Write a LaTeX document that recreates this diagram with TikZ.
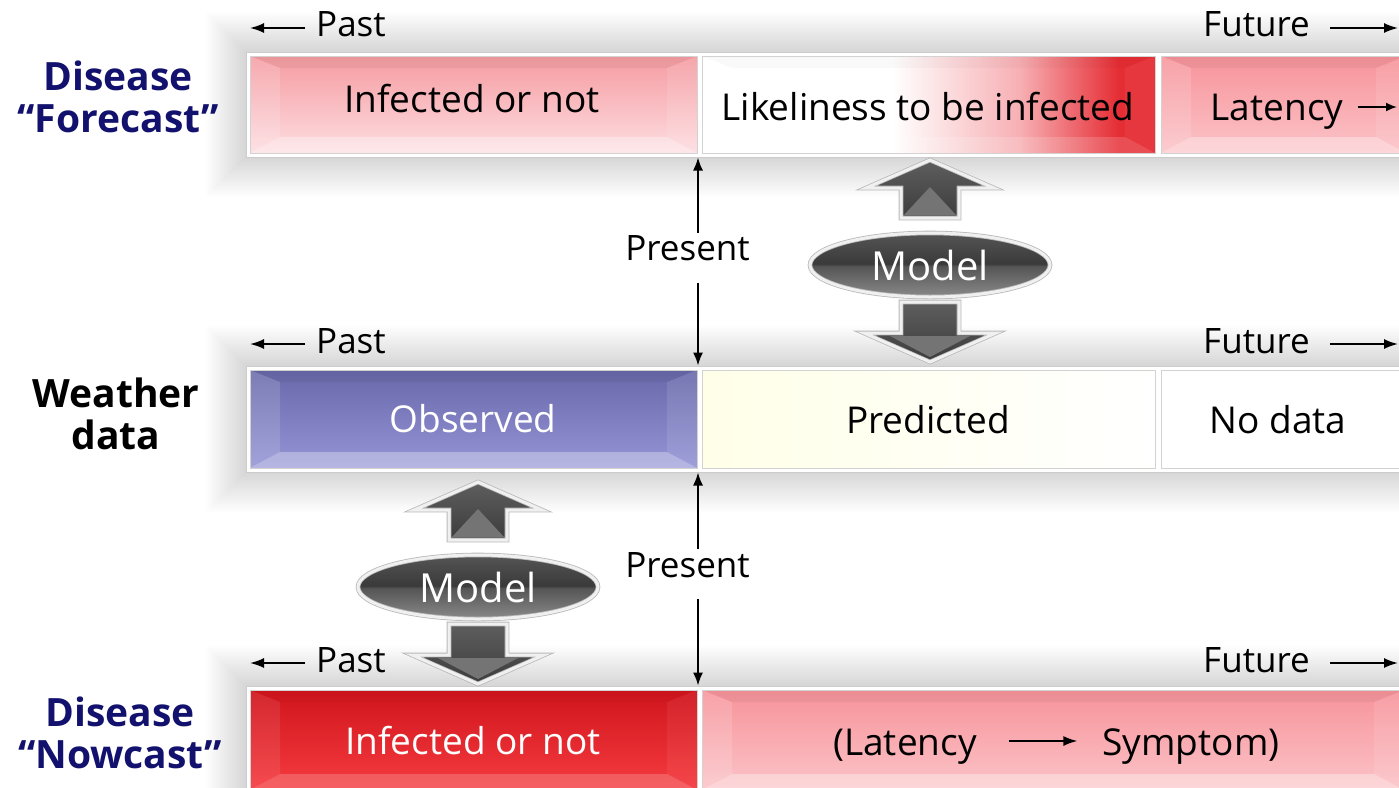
\documentclass[tikz,border=0pt]{standalone}
\usepackage{fontspec}
\setmainfont{Open Sans}
\usetikzlibrary{arrows.meta,shapes.geometric,calc}
\definecolor{navy}{HTML}{12126E}
\definecolor{pkT}{HTML}{F59CA1}
\definecolor{pkB}{HTML}{FDDDE1}
\definecolor{pk2T}{HTML}{F7939A}
\definecolor{pk2B}{HTML}{FBC4C8}
\definecolor{obT}{HTML}{6868AA}
\definecolor{obB}{HTML}{9494D6}
\definecolor{rdT}{HTML}{D0141C}
\definecolor{rdB}{HTML}{F53C40}
\definecolor{lkmid}{HTML}{F7B0B4}
\definecolor{lkred}{HTML}{E52D34}
\definecolor{mdark}{HTML}{3A3A3A}
\definecolor{mmid}{HTML}{555555}
\definecolor{mlight}{HTML}{8A8A8A}
\definecolor{arT}{HTML}{5E5E5E}
\definecolor{arB}{HTML}{3C3C3C}
\definecolor{facet}{HTML}{747474}
\pgfdeclarehorizontalshading{likely}{100bp}{color(0bp)=(white); color(25bp)=(white); color(46bp)=(white); color(60bp)=(lkmid); color(71bp)=(lkred); color(100bp)=(lkred)}
\pgfdeclareverticalshading{modelsh}{100bp}{color(0bp)=(mlight); color(25bp)=(mlight); color(49bp)=(mmid); color(51bp)=(mdark); color(75bp)=(mmid); color(100bp)=(mmid)}
\newcommand\softshadow[4]{%
  \foreach \i in {1,...,20}{\fill[black,opacity=.0075] (#1-2*\i,#2-2*\i) rectangle (#3+2*\i,#4+2*\i);}}
\newcommand\modelwidget[3]{%
  \begin{scope}[shift={(#2,#3)}]
    \path[blockarrow] (0,-105) -- (64,-77) -- (29,-77) -- (29,-47) -- (-29,-47) -- (-29,-77) -- (-64,-77) -- cycle;
    \fill[facet] (-26,-50) -- (26,-50) -- (0,-78) -- cycle;
    \node[modelov] (#1) at (0,0) {Model};
    \path[blockarrow] (-29,37) -- (29,37) -- (29,68) -- (66,68) -- (0,97) -- (-66,68) -- (-29,68) -- cycle;
    \fill[facet] (-40,71) -- (40,71) -- (0,92) -- cycle;
  \end{scope}}
\begin{document}
\begin{tikzpicture}[x=1pt,y=-1pt,
  lbl/.style={font=\fontsize{35}{40}\selectfont, inner sep=0},
  btxt/.style={font=\fontsize{37}{44}\selectfont, inner sep=0},
  side/.style={font=\bfseries\fontsize{39}{42}\selectfont, align=center, inner sep=0},
  tarrow/.style={-{Latex[length=14pt,width=10pt]}, line width=1.8pt},
  parrow/.style={-{Latex[length=13pt,width=10pt]}, line width=1.6pt},
  frame/.style={rectangle, draw=gray!40, fill=white, line width=1pt, inner sep=0},
  box/.style={rectangle, draw=gray!35, line width=.8pt, inner sep=0},
  bevel/.style={path picture={
    \coordinate (bNW) at (path picture bounding box.north west);
    \coordinate (bNE) at (path picture bounding box.north east);
    \coordinate (bSW) at (path picture bounding box.south west);
    \coordinate (bSE) at (path picture bounding box.south east);
    \fill[black,opacity=#1*.045] (bNW) -- (bNE) -- ([shift={(-30,12)}]bNE) -- ([shift={(30,12)}]bNW) -- cycle;
    \fill[white,opacity=#1*.32] (bSW) -- (bSE) -- ([shift={(-30,-16)}]bSE) -- ([shift={(30,-16)}]bSW) -- cycle;
    \fill[white,opacity=#1*.14] (bNW) -- ([shift={(30,12)}]bNW) -- ([shift={(30,-16)}]bSW) -- (bSW) -- cycle;
    \fill[white,opacity=#1*.10] (bNE) -- ([shift={(-30,12)}]bNE) -- ([shift={(-30,-16)}]bSE) -- (bSE) -- cycle;
  }},
  bevel/.default=1,
  blockarrow/.style={draw=gray!55, line width=.8pt, double=gray!12, double distance=3pt, top color=arT, bottom color=arB},
  modelov/.style={ellipse, minimum width=240, minimum height=64, shading=modelsh, draw=gray!55, line width=.8pt, double=gray!12, double distance=3pt, text=white, font=\fontsize{40}{40}\selectfont, inner sep=0}
]
\useasboundingbox (0,0) rectangle (1399,787);
\clip (0,0) rectangle (1399,787);
\fill[white] (0,0) rectangle (1399,787);

% shadows
\softshadow{246}{52}{1410}{157}
\softshadow{246}{366}{1410}{472}
\softshadow{246}{686}{1410}{800}

% row frames
\node[frame, minimum width=1160, minimum height=105] (fr1) at (826,104.5) {};
\node[frame, minimum width=1160, minimum height=106] (fr2) at (826,419) {};
\node[frame, minimum width=1160, minimum height=112] (fr3) at (826,742) {};

% row 1 boxes
\node[box, bevel, top color=pkT, bottom color=pkB, minimum width=447, minimum height=97] (b11) at (473.5,104.5) {};
\node[box, bevel=.5, shading=likely, minimum width=453, minimum height=97] (b12) at (928.5,104.5) {};
\node[box, bevel, top color=pk2T, bottom color=pk2B, minimum width=245, minimum height=97] (b13) at (1283.5,104.5) {};

% row 2 boxes
\node[box, bevel, top color=obT, bottom color=obB, minimum width=447, minimum height=98] (b21) at (473.5,419) {};
\node[box, left color=yellow!9, right color=white, minimum width=453, minimum height=98] (b22) at (928.5,419) {};
\node[box, fill=white, minimum width=245, minimum height=98] (b23) at (1283.5,419) {};

% row 3 boxes
\node[box, bevel=.6, top color=rdT, bottom color=rdB, minimum width=447, minimum height=100] (b31) at (473.5,740) {};
\node[box, bevel, top color=pk2T, bottom color=pk2B, minimum width=702, minimum height=100] (b32) at (1053,740) {};

% box texts
\node[btxt] (t11) at (472,99) {Infected or not};
\node[btxt] (t12) at (928,107) {Likeliness to be infected};
\node[btxt, anchor=base] (t13) at (1277,120) {Latency};
\coordinate (t13e) at (1397,107);
\draw[-{Latex[length=11pt,width=9pt]}, line width=1.8pt] ($(t13.base east)+(14,-13)$) -- (t13e);

\node[btxt, text=white] (t21) at (473,419) {Observed};
\node[btxt] (t22) at (928,420) {Predicted};
\node[btxt] (t23) at (1278,420) {No data};

\node[btxt, text=white] (t31) at (473,741) {Infected or not};
\node[btxt, anchor=base] (t32a) at (905,755) {(Latency};
\node[btxt, anchor=base] (t32b) at (1191,755) {Symptom)};
\draw[tarrow] ($(t32a.base east)+(32,-14)$) -- ($(t32b.base west)+(-25,-14)$);

% time labels
\foreach \r/\y/\ya in {1/24.5/28, 2/341/344, 3/660/663}{
  \node[lbl, anchor=west] (past\r) at (316,\y) {Past};
  \node[lbl, anchor=east] (fut\r) at (1310,\y) {Future};
  \coordinate (pa\r) at (250,\ya);
  \coordinate (fa\r) at (1398,\ya);
  \draw[tarrow] (past\r.west |- pa\r) ++(-11,0) -- (pa\r);
  \draw[tarrow] (fut\r.east |- fa\r) ++(20,0) -- (fa\r);
}

% present markers
\node[lbl] (pr1) at (687.5,248) {Present};
\node[lbl] (pr2) at (687.5,565) {Present};
\coordinate (p1a) at (698,233);
\coordinate (p1b) at (698,283);
\coordinate (p2a) at (698,549);
\coordinate (p2b) at (698,599);
\draw[parrow] (p1a) -- (p1a |- fr1.south);
\draw[parrow] (p1b) -- (p1b |- fr2.north);
\draw[parrow] (p2a) -- (p2a |- fr2.south);
\draw[parrow] (p2b) -- (p2b |- fr3.north);

% model widgets
\modelwidget{m1}{930}{265}
\modelwidget{m2}{478}{587}

% side labels
\node[side, text=navy] (s1) at (118,97) {Disease\\“Forecast”};
\node[side] (s2) at (116,414) {Weather\\data};
\node[side, text=navy] (s3) at (120,733) {Disease\\“Nowcast”};
\end{tikzpicture}
\end{document}
